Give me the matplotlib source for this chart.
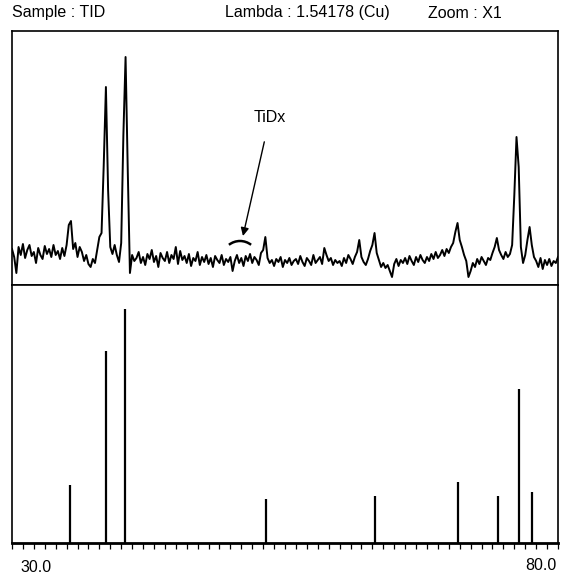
import matplotlib.pyplot as plt
import matplotlib.transforms as mtransforms
from matplotlib.patches import Arc
import numpy as np

plt.rcParams['font.family'] = ['Liberation Sans', 'DejaVu Sans']

# measured scan: 2-theta from 30.0 to 80.0, step 0.2 deg
scan_start = 30.0
scan_step = 0.2
counts = [
    36, 28, 12, 38, 30, 41, 27, 35, 40, 29,      # 30.0 - 31.8
    33, 22, 37, 30, 26, 39, 31, 36, 28, 40,      # 32.0 - 33.8
    30, 34, 26, 37, 29, 40, 60, 64, 36, 42,      # 34.0 - 35.8
    28, 38, 33, 24, 30, 21, 18, 26, 22, 35,      # 36.0 - 37.8
    48, 52, 120, 198, 95, 38, 31, 40, 30, 23,    # 38.0 - 39.8
    42, 150, 228, 115, 12, 30, 24, 27, 33, 22,   # 40.0 - 41.8
    28, 20, 31, 26, 35, 23, 29, 18, 32, 27,      # 42.0 - 43.8
    24, 33, 22, 30, 26, 38, 21, 34, 25, 29,      # 44.0 - 45.8
    22, 31, 19, 27, 24, 33, 20, 28, 23, 30,      # 46.0 - 47.8
    21, 27, 18, 29, 25, 22, 30, 20, 26, 23,      # 48.0 - 49.8
    28, 14, 24, 30, 22, 27, 19, 29, 24, 31,      # 50.0 - 51.8
    22, 28, 25, 20, 32, 35, 48, 27, 22, 25,      # 52.0 - 53.8
    19, 26, 23, 28, 18, 25, 22, 27, 20, 24,      # 54.0 - 55.8
    26, 21, 29, 23, 19, 27, 24, 20, 30, 22,      # 56.0 - 57.8
    25, 28, 21, 37, 30, 24, 27, 20, 25, 22,      # 58.0 - 59.8
    24, 19, 27, 22, 30, 26, 21, 28, 33, 45,      # 60.0 - 61.8
    28, 23, 20, 26, 34, 40, 52, 32, 25, 18,      # 62.0 - 63.8
    22, 17, 20, 14, 8, 21, 26, 19, 25, 22,       # 64.0 - 65.8
    27, 21, 29, 24, 20, 28, 23, 30, 25, 22,      # 66.0 - 67.8
    28, 24, 31, 26, 33, 27, 30, 35, 29, 36,      # 68.0 - 69.8
    32, 38, 42, 53, 62, 45, 38, 30, 24, 8,       # 70.0 - 71.8
    14, 22, 18, 26, 21, 28, 24, 20, 27, 25,      # 72.0 - 73.8
    32, 38, 47, 35, 30, 26, 33, 28, 31, 40,      # 74.0 - 75.8
    90, 148, 118, 38, 22, 30, 45, 58, 40, 28,    # 76.0 - 77.8
    24, 18, 27, 16, 25, 20, 26, 19, 24, 22,      # 78.0 - 79.8
    28,                                          # 80.0
]

# reference pattern (stick lines)
ref_pos = [35.3, 38.6, 40.35, 53.3, 63.2, 70.8, 74.5, 76.4, 77.6]
ref_int = [25, 82, 100, 19, 20, 26, 20, 66, 22]

header_left = 'Sample : TID'
header_mid = 'Lambda : 1.54178 (Cu)'
header_right = 'Zoom : X1'
x_first, x_last = '30.0', '80.0'

two_theta = scan_start + scan_step * np.arange(len(counts))

fig = plt.figure(figsize=(5.68, 5.81), dpi=100)
left, right = 12 / 568, 558 / 568
y_base, y_mid, y_top = 38 / 581, 296 / 581, 550 / 581

ax1 = fig.add_axes([left, y_mid, right - left, y_top - y_mid])
ax2 = fig.add_axes([left, y_base, right - left, y_mid - y_base])

# top: measured pattern
ax1.plot(two_theta, counts, color='black', lw=1.4)
ax1.set_xlim(30, 80)
ax1.set_ylim(0, 254)
ax1.set_xticks([])
ax1.set_yticks([])
for s in ax1.spines.values():
    s.set_linewidth(1.2)

ax1.annotate('TiDx', xy=(51.15, 49), xytext=(53.6, 167),
             ha='center', va='center', fontsize=11.5,
             arrowprops=dict(arrowstyle='-|>', color='black', lw=1.0,
                             mutation_scale=12, shrinkA=10, shrinkB=0))
# small arc over the weak hydride feature, drawn as a true circle in inches
arc_tr = fig.dpi_scale_trans + mtransforms.ScaledTranslation(50.88, 26, ax1.transData)
ax1.add_patch(Arc((0, 0), 0.36, 0.36, theta1=52, theta2=128,
                  color='black', lw=1.8, transform=arc_tr))

# bottom: reference sticks
ax2.vlines(ref_pos, 0, ref_int, color='black', lw=1.6)
ax2.set_xlim(30, 80)
ax2.set_ylim(0, 110.3)
ax2.set_yticks([])
ax2.set_xticks(np.arange(30, 81, 1))
ax2.set_xticklabels([])
ax2.tick_params(axis='x', direction='out', length=4, width=0.9)
for s in ax2.spines.values():
    s.set_linewidth(1.2)
ax2.spines['bottom'].set_linewidth(2.0)

fig.text(12 / 568, 1 - 13 / 581, header_left, fontsize=11.5, va='center', ha='left')
fig.text(225 / 568, 1 - 13 / 581, header_mid, fontsize=11.5, va='center', ha='left')
fig.text(428 / 568, 1 - 13 / 581, header_right, fontsize=11.5, va='center', ha='left')
fig.text(20 / 568, 1 - 567 / 581, x_first, fontsize=11.5, va='center', ha='left')
fig.text(557 / 568, 1 - 565 / 581, x_last, fontsize=11.5, va='center', ha='right')

fig.savefig('out.png', dpi=100)
